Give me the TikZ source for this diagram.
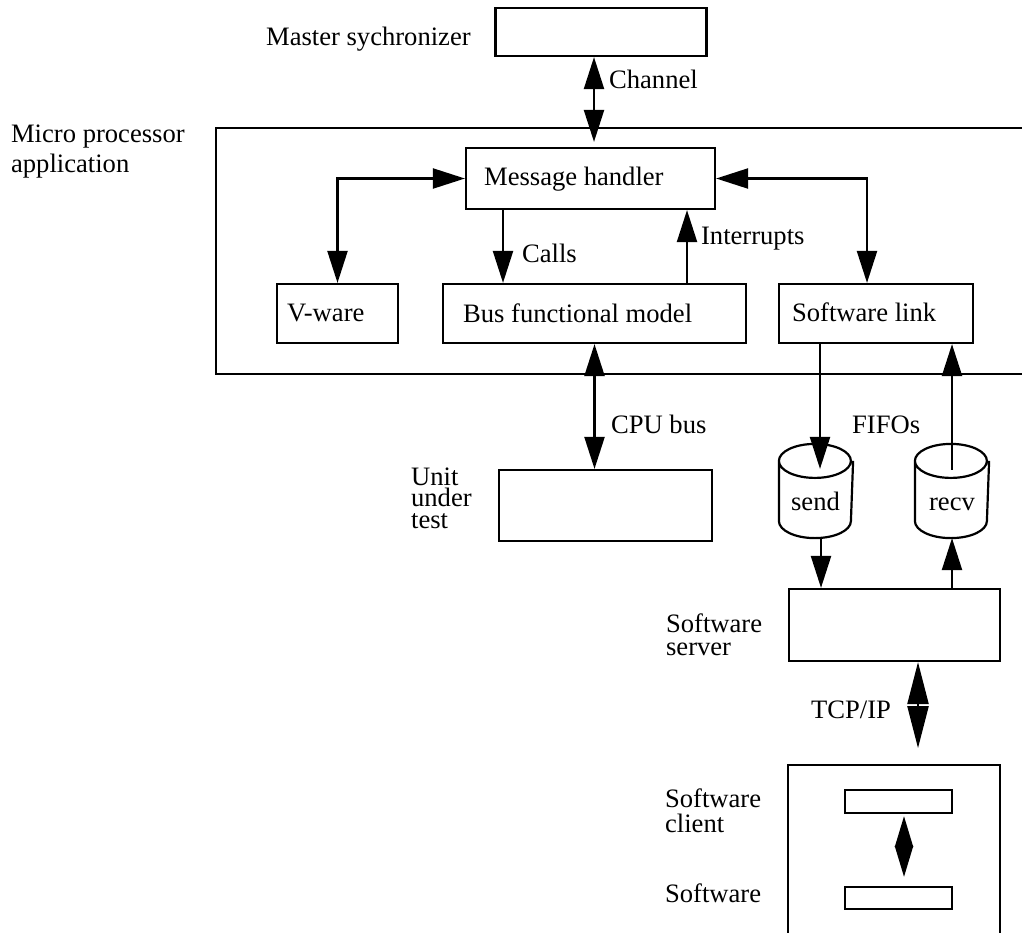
\documentclass[tikz,border=0pt]{standalone}
\usepackage{fontspec}
\setmainfont{Liberation Serif}
\usetikzlibrary{arrows.meta,calc,positioning}
\tikzset{
  >={Triangle[length=16pt,width=10pt]},
  blk/.style={draw,rectangle,inner sep=0pt},
  tx/.style={inner sep=0pt,anchor=base west,align=left,font=\fontsize{13.3}{15}\selectfont},
  fifo/.style={rectangle,inner sep=0pt,minimum width=36pt,minimum height=46pt},
  big/.style={>={Triangle[length=21pt,width=10.5pt]}},
  every picture/.style={line width=1.1pt},
}
\begin{document}
\begin{tikzpicture}[x=0.5pt,y=-0.5pt]
\useasboundingbox (0,0) rectangle (1022,932);
% boxes
\node[blk,minimum width=105.5pt,minimum height=24pt] (master) at (601,32){};
\node[blk,minimum width=442pt,minimum height=123pt] (mpa) at (658,251){};
\node[blk,minimum width=124.5pt,minimum height=30.5pt] (mh) at (590.5,178.5){};
\node[blk,minimum width=60.5pt,minimum height=29.5pt] (vware) at (337.5,313.5){};
\node[blk,minimum width=151.5pt,minimum height=29.5pt] (bfm) at (594.5,313.5){};
\node[blk,minimum width=97pt,minimum height=29.5pt] (swlink) at (876,313.5){};
\node[blk,minimum width=106.5pt,minimum height=35.5pt] (uut) at (605.5,505.5){};
\node[fifo] (send) at (816,491){};
\node[fifo] (recv) at (952,491){};
\node[blk,minimum width=105.5pt,minimum height=36pt] (server) at (894.5,625){};
\node[blk,minimum width=106pt,minimum height=117.5pt] (client) at (894,882.5){};
\node[blk,minimum width=53.5pt,minimum height=11.5pt] (cl1) at (898.5,801.5){};
\node[blk,minimum width=53.5pt,minimum height=11pt] (cl2) at (898.5,898){};
% the two fifo drums
\foreach \c in {send,recv}{
  \draw ($(\c.north west)+(0,17)$) arc[start angle=180,end angle=360,x radius=18pt,y radius=8.5pt]
    arc[start angle=0,end angle=180,x radius=18pt,y radius=8.5pt] -- ($(\c.south west)+(0,-17)$)
    arc[start angle=180,end angle=360,x radius=18pt,y radius=8.5pt] -- ($(\c.north east)+(0,17)$);
}
% texts
\node[tx] (masterT) at (265,45) {Master sychronizer};
\node[tx] (chanT) at (608,88) {Channel};
\node[tx] (mpaT) at (10,172) {Micro processor\\application};
\node[tx] (mhT) at (483,185) {Message handler};
\node[tx] (vwareT) at (286,321) {V-ware};
\node[tx] (bfmT) at (462,322) {Bus functional model};
\node[tx] (swlinkT) at (791,321) {Software link};
\node[tx] (callsT) at (521,262) {Calls};
\node[tx] (intT) at (700,244) {Interrupts};
\node[tx] (cpuT) at (610,433) {CPU bus};
\node[tx] (fifoT) at (851,433) {FIFOs};
\node[tx,font=\fontsize{13.3}{10.75}\selectfont] (uutT) at (410,528) {Unit\\under\\test};
\node[tx] (sendT) at (790,510) {send};
\node[tx] (recvT) at (928,510) {recv};
\node[tx,font=\fontsize{13.3}{11.5}\selectfont] (serverT) at (665,655) {Software\\server};
\node[tx] (tcpT) at (810,718) {TCP/IP};
\node[tx,font=\fontsize{13.3}{12.5}\selectfont] (clientT) at (664,832) {Software\\client};
\node[tx] (swT) at (664,902) {Software};
% connectors
\coordinate (sendIn) at ($(swlink.south)+(-56,0)$);
\coordinate (sendOut) at ($(send.south)+(5,0)$);
\coordinate (tcpA) at ($(server.south)+(23.5,0)$);
\draw[<->,shorten >=2.5pt] ($(master.south)+(-7,0)$) -- ($(mh.north)+(3.5,0)$);
\draw[<->] (mh.west) -| (vware.north);
\draw[<->] (mh.east) -| ($(swlink.north)+(-9,0)$);
\draw[->] ($(mh.south)+(-87.5,0)$) -- ($(bfm.north)+(-91.5,0)$);
\draw[->] ($(bfm.north)+(92.5,0)$) -- ($(mh.south)+(96.5,0)$);
\draw[<->] (bfm.south) -- (bfm.south |- uut.north);
\draw[->] (sendIn) -- ($(send.north)+(4,25)$);
\draw[->] ($(recv.north)+(0,26)$) -- (recv.north |- swlink.south);
\draw[->] (sendOut) -- (sendOut |- server.north);
\draw[->] (recv.south |- server.north) -- (recv.south);
\draw[<->,big] (tcpA) -- ($(tcpA)+(0,86)$);
\draw[<->,>={Triangle[length=15.5pt,width=9pt]},shorten >=4.5pt,shorten <=1pt]
  ($(cl1.south)+(5.5,0)$) -- ($(cl2.north)+(5.5,0)$);
\end{tikzpicture}
\end{document}
